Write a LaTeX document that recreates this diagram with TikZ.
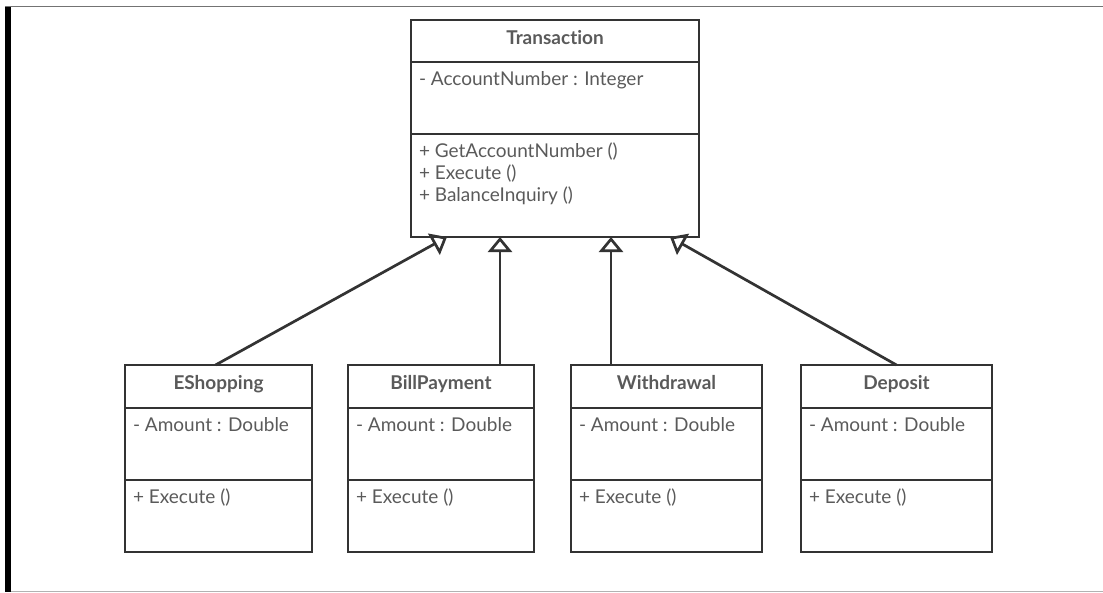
\documentclass[tikz,border=0pt]{standalone}
\usepackage{fontspec}
\setmainfont{Lato}[Ligatures={NoCommon}]
\usepackage{xcolor}
\usetikzlibrary{arrows.meta, positioning}

\definecolor{umlline}{HTML}{333333}
\definecolor{umltext}{HTML}{5A5A5A}

% compartment text, top aligned in a box of fixed height
\newcommand{\classpart}[3]{\parbox[c][#1][t]{#2}{\raggedright\rule{0pt}{23pt}#3}}

\tikzset{
  classhead/.style={draw=umlline, line width=2.7pt, outer sep=0pt, inner sep=0pt,
    font=\fontsize{19}{22}\selectfont\bfseries, text=umltext, text height=12pt, text depth=6pt,
    minimum height=43pt, anchor=north west},
  classbody/.style={draw=umlline, line width=2.7pt, outer sep=0pt, inner xsep=8pt, inner ysep=0pt,
    font=\fontsize{19}{22}\selectfont, text=umltext},
  inherit/.style={draw=umlline, line width=2.7pt, -{Triangle[open, length=15pt, width=24pt]}}
}

\begin{document}
\begin{tikzpicture}[x=1pt, y=-1pt]

    \useasboundingbox (0,0) rectangle (1103,592);

    % page frame
    \fill[black] (5,6) rectangle (11,592);
    \draw[black!55, line width=1pt] (5,6.5) -- (1103,6.5);
    \draw[black!30, line width=1pt] (11,591) -- (1103,591);

    % Transaction
    \node[classhead, minimum width=288pt, minimum height=42pt] (trans) at (411,20) {Transaction};
    \node[classbody, below=0pt of trans] (trans-a) {\classpart{72pt}{272pt}{- AccountNumber : Integer}};
    \node[classbody, below=0pt of trans-a] (trans-m) {\classpart{103pt}{272pt}{+ GetAccountNumber ()\\+ Execute ()\\+ BalanceInquiry ()}};

    % EShopping
    \node[classhead, minimum width=187pt] (eshop) at (125,365) {EShopping};
    \node[classbody, below=0pt of eshop] (eshop-a) {\classpart{72pt}{171pt}{- Amount : Double}};
    \node[classbody, below=0pt of eshop-a] (eshop-m) {\classpart{72pt}{171pt}{+ Execute ()}};

    % BillPayment
    \node[classhead, minimum width=186pt] (bill) at (348,365) {BillPayment};
    \node[classbody, below=0pt of bill] (bill-a) {\classpart{72pt}{170pt}{- Amount : Double}};
    \node[classbody, below=0pt of bill-a] (bill-m) {\classpart{72pt}{170pt}{+ Execute ()}};

    % Withdrawal
    \node[classhead, minimum width=191pt] (withd) at (571,365) {Withdrawal};
    \node[classbody, below=0pt of withd] (withd-a) {\classpart{72pt}{175pt}{- Amount : Double}};
    \node[classbody, below=0pt of withd-a] (withd-m) {\classpart{72pt}{175pt}{+ Execute ()}};

    % Deposit
    \node[classhead, minimum width=191pt] (depos) at (801,365) {Deposit};
    \node[classbody, below=0pt of depos] (depos-a) {\classpart{72pt}{175pt}{- Amount : Double}};
    \node[classbody, below=0pt of depos-a] (depos-m) {\classpart{72pt}{175pt}{+ Execute ()}};

    % generalisation arrows
    \draw[inherit] ([xshift=-3pt]eshop.north) -- ([xshift=36pt]trans-m.south west);
    \draw[inherit] ([xshift=59pt]bill.north) -- ([xshift=59pt]bill.north |- trans-m.south);
    \draw[inherit] ([xshift=-55.5pt]withd.north) -- ([xshift=-55.5pt]withd.north |- trans-m.south);
    \draw[inherit] (depos.north) -- ([xshift=-29pt]trans-m.south east);

\end{tikzpicture}
\end{document}
